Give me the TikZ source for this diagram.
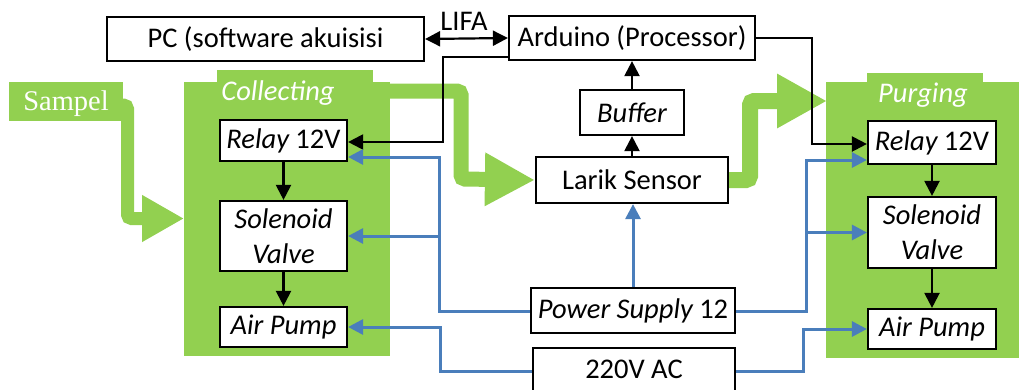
\documentclass[tikz,border=0pt]{standalone}
\usepackage{fontspec}
\setmainfont{Carlito}
\newfontfamily\sampelfont{Liberation Serif}
\usetikzlibrary{arrows.meta,calc}
\definecolor{grn}{HTML}{92D050}
\definecolor{bluec}{HTML}{4A7EBB}
\begin{document}
\begin{tikzpicture}[x=1pt,y=-1pt,
  box/.style={draw=black,line width=2.2pt,fill=white,inner sep=0pt,align=center,font=\fontsize{28.5}{35}\selectfont},
  blk/.style={draw=black,line width=2.2pt,-{Triangle[length=15pt,width=15pt]}},
  pwr/.style={draw=bluec,line width=3pt,-{Triangle[length=15pt,width=15pt]}},
  lbl/.style={font=\fontsize{28.5}{30}\selectfont,inner sep=0pt},
  flow/.style={draw=grn,rounded corners=4pt}
]
\useasboundingbox (0,0) rectangle (1022,389);
% green regions
\fill[grn] (184,82) rectangle (390,356);
\fill[grn] (217,70) rectangle (373,82);
\fill[grn] (826,82) rectangle (1019,358);
\fill[grn] (867,73) rectangle (983,82);
\fill[grn] (9,82) rectangle (123,121);
\coordinate (sampelout) at (116,105);
\coordinate (collout) at (385,91);

% boxes
\node[box,minimum width=317pt,minimum height=44pt] (pc) at (265.5,39) {PC (software akuisisi};
\node[box,minimum width=246pt,minimum height=44pt] (ard) at (632,38) {Arduino (Processor)};
\node[box,minimum width=104pt,minimum height=45pt] (buf) at (632,112.5) {\itshape Buffer};
\node[box,minimum width=192pt,minimum height=46pt] (larik) at (632,180) {Larik Sensor};
\node[box,minimum width=204pt,minimum height=45pt] (ps) at (633,310.5) {\itshape Power Supply\upshape\ 12};
\node[box,minimum width=202pt,minimum height=46pt,text depth=4pt] (ac) at (634,371) {220V AC};
\node[box,minimum width=127pt,minimum height=41pt] (relayL) at (283.5,140.5) {\itshape Relay\upshape\ 12V};
\node[box,minimum width=127pt,minimum height=70pt] (solL) at (283.5,236) {\itshape Solenoid\\\itshape Valve};
\node[box,minimum width=127pt,minimum height=40pt] (pumpL) at (283.5,327) {\itshape Air Pump};
\node[box,minimum width=128pt,minimum height=43pt] (relayR) at (932,142.5) {\itshape Relay\upshape\ 12V};
\node[box,minimum width=128pt,minimum height=71pt] (solR) at (932,232.5) {\itshape Solenoid\\\itshape Valve};
\node[box,minimum width=128pt,minimum height=40pt] (pumpR) at (932,329) {\itshape Air Pump};

% thick green flow arrows
\draw[flow,line width=13pt,-{Triangle[length=42pt,width=44pt]}]
  (sampelout) -- (127.5,105) -- (127.5,218.5) -- (184,218.5);
\draw[flow,line width=15pt,-{Triangle[length=50pt,width=50pt]}]
  (collout) -- (461,91) -- (461,179) -- (larik.west);
\draw[flow,line width=16pt,-{Triangle[length=50pt,width=51pt]}]
  (larik.east) -- (750,180) -- (750,101) -- (827,101);

% labels on green
\node[lbl,text=white,anchor=base] (coll) at (278,100) {\itshape Collecting};
\node[lbl,text=white,anchor=base] (purg) at (923,102) {\itshape Purging};
\node[lbl,text=white,anchor=base,font=\sampelfont\fontsize{28.5}{30}\selectfont] (sampel) at (66,110) {Sampel};

% black connectors
\draw[draw=black,line width=2.2pt,{Triangle[length=15pt,width=15pt]}-{Triangle[length=15pt,width=15pt]}] (pc.east) -- (ard.west);
\node[lbl,anchor=base] (lifa) at (464,30) {LIFA};
\draw[blk] ([yshift=-19pt]ard.west) -- (443,57) |- ([yshift=-1.5pt]relayL.east);
\draw[blk] (ard.east) -- (812,38) |- ([yshift=-1.5pt]relayR.west);
\draw[blk] (buf.north) -- (ard.south);
\draw[blk] (larik.north) -- (buf.south);
\draw[blk] (relayL.south) -- (solL.north);
\draw[blk] (solL.south) -- (pumpL.north);
\draw[blk] (relayR.south) -- (solR.north);
\draw[blk] (solR.south) -- (pumpR.north);

% blue power connectors
\draw[pwr] (ps.north) -- (ps.north |- larik.south);
\draw[pwr] ([yshift=-0.5pt]ps.west) -- (439,311) |- ([yshift=-16.5pt]relayL.east);
\draw[pwr] (439,236) -- (solL.east);
\draw[pwr] ([yshift=-0.5pt]ps.east) -- (806,311) |- ([yshift=-17.5pt]relayR.west);
\draw[pwr] (806,232.5) -- (solR.west);
\draw[pwr] (ac.west) -- (440,371) |- (pumpL.east);
\draw[pwr] (ac.east) -- (803,371) |- (pumpR.west);
\end{tikzpicture}
\end{document}
